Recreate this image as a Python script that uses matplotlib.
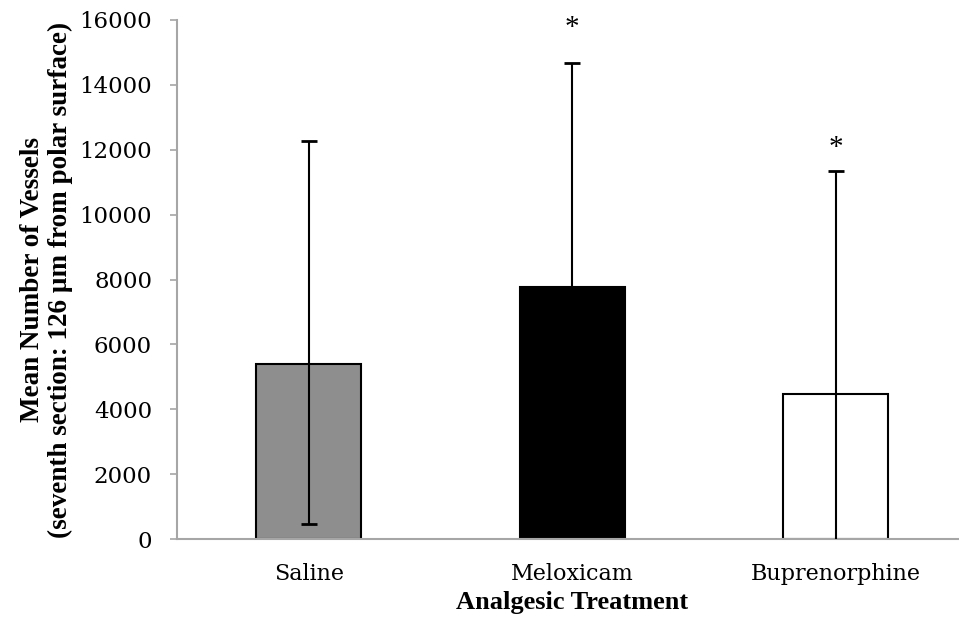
import matplotlib
matplotlib.use("Agg")
import matplotlib.pyplot as plt
import numpy as np

categories = ["Saline", "Meloxicam", "Buprenorphine"]
means = [5400, 7770, 4480]
err_upper = [6880, 6900, 6870]
err_lower = [4950, 6900, 6870]
bar_colors = ["#8e8e8e", "#000000", "#ffffff"]
sig_marks = ["", "*", "*"]
sig_y = [None, 15750, 12050]
yticks = [0, 2000, 4000, 6000, 8000, 10000, 12000, 14000, 16000]

fig = plt.figure(figsize=(9.59, 6.30), dpi=100)
ax = fig.add_axes([177/959, 1 - 539/630, 3*263.5/959, 519/630])

x = np.arange(len(categories))
ax.bar(x, means, width=0.4, color=bar_colors, edgecolor="black", linewidth=1.5, zorder=2)
ax.errorbar(x, means, yerr=[err_lower, err_upper], fmt="none", ecolor="black",
            elinewidth=1.5, capsize=6, capthick=2, zorder=3, clip_on=True)

for xi, m, yy in zip(x, sig_marks, sig_y):
    if m:
        ax.text(xi, yy, m, ha="center", va="center", fontsize=21,
                family="Liberation Serif", zorder=4)

ax.set_xlim(-0.5, 2.5)
ax.set_ylim(0, 16000)
ax.set_yticks(yticks)
ax.set_yticklabels([str(t) for t in yticks], family="DejaVu Serif", fontsize=16.5)
ax.set_xticks(x)
ax.set_xticklabels(categories, family="DejaVu Serif", fontsize=16)
ax.tick_params(axis="y", direction="out", length=5, width=1.2, color="#a6a6a6", pad=13)
ax.tick_params(axis="x", length=0, pad=17)

for s in ["top", "right"]:
    ax.spines[s].set_visible(False)
for s in ["left", "bottom"]:
    ax.spines[s].set_color("#a6a6a6")
    ax.spines[s].set_linewidth(1.5)

ax.set_ylabel("Mean Number of Vessels\n(seventh section: 126 µm from polar surface)",
              family="Liberation Serif", fontweight="bold", fontsize=19.5,
              linespacing=1.15)
ax.yaxis.set_label_coords(-104/790.5, 0.5)
ax.set_xlabel("Analgesic Treatment", family="Liberation Serif", fontweight="bold",
              fontsize=19)
ax.xaxis.set_label_coords(0.5, -52/519)
ax.xaxis.label.set_verticalalignment("top")

fig.savefig("out.png", dpi=100)
